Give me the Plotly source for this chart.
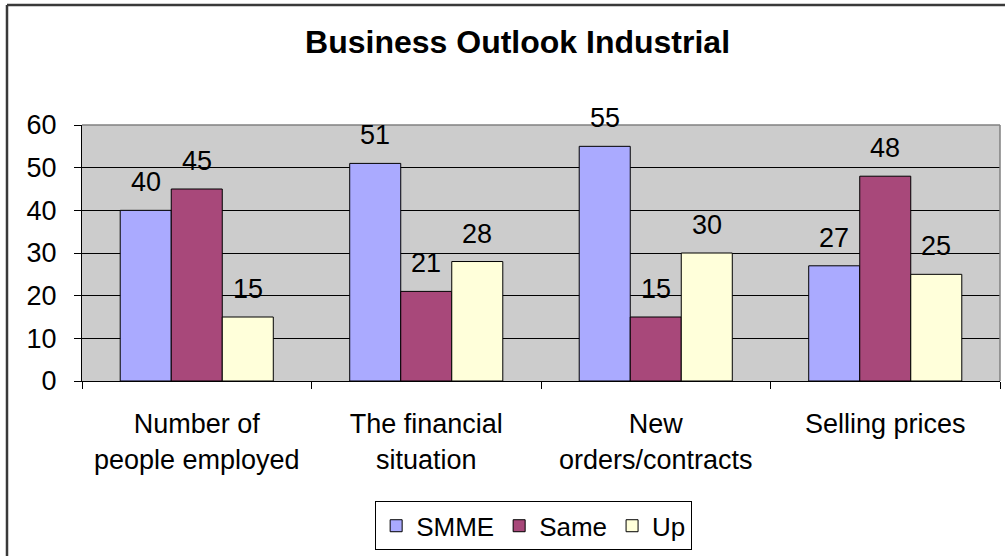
import plotly.graph_objects as go

# Survey categories and the share of responses per outlook group
categories = ["Number of<br>people employed", "The financial<br>situation",
              "New<br>orders/contracts", "Selling prices"]
smme = [40, 51, 55, 27]
same = [45, 21, 15, 48]
up = [15, 28, 30, 25]

series = [("SMME", smme, "#AAAAFF"), ("Same", same, "#A8487A"), ("Up", up, "#FFFFDA")]

FONT = "Arial, Liberation Sans, sans-serif"
BARGAP = 0.333

fig = go.Figure()
for name, vals, color in series:
    fig.add_trace(go.Bar(
        name=name, x=categories, y=vals,
        marker=dict(color=color, line=dict(color="#000000", width=1)),
        cliponaxis=False,
    ))

# value labels sitting above each bar
bar_w = (1 - BARGAP) / len(series)
annotations = []
for k, (name, vals, color) in enumerate(series):
    offset = (k - (len(series) - 1) / 2) * bar_w
    for i, v in enumerate(vals):
        annotations.append(dict(
            x=i + offset, y=v, xref="x", yref="y", text=str(v),
            showarrow=False, yanchor="bottom", yshift=11,
            font=dict(family=FONT, size=27, color="#000000"),
        ))

fig.update_layout(
    width=1005, height=556,
    margin=dict(l=82, r=5, t=125, b=173),
    paper_bgcolor="#FFFFFF",
    plot_bgcolor="#CCCCCC",
    barmode="group", bargap=BARGAP, bargroupgap=0,
    font=dict(family=FONT, size=27, color="#000000"),
    title=dict(text="<b>Business Outlook Industrial</b>", x=0.515, xref="container",
               y=0.925, yref="container", xanchor="center", yanchor="middle",
               font=dict(family=FONT, size=32, color="#000000")),
    legend=dict(orientation="h", x=0.492, y=-0.47, xanchor="center", yanchor="top",
                bordercolor="#000000", borderwidth=1, bgcolor="#FFFFFF",
                font=dict(family=FONT, size=26), itemwidth=30,
                tracegroupgap=0),
    annotations=annotations,
    showlegend=True,
)

fig.update_xaxes(
    type="category", tickson="boundaries", ticks="outside", ticklen=7,
    tickcolor="#000000", showline=True, linecolor="#000000", linewidth=1,
    showgrid=False, ticklabelstandoff=19,
    tickfont=dict(family=FONT, size=27, color="#000000"),
)
fig.update_yaxes(
    range=[0, 60], dtick=10, ticks="outside", ticklen=7, tickcolor="#000000",
    showline=True, linecolor="#000000", linewidth=1,
    showgrid=True, gridcolor="#000000", gridwidth=1, zeroline=False,
    ticklabelstandoff=12,
    tickfont=dict(family=FONT, size=27, color="#000000"),
)

# plot-area frame (top and right edges) and the outer chart border
fig.add_shape(type="line", xref="paper", yref="paper", x0=0, x1=1, y0=1, y1=1,
              line=dict(color="#808080", width=1.5))
fig.add_shape(type="line", xref="paper", yref="paper", x0=1, x1=1, y0=0, y1=1,
              line=dict(color="#808080", width=1.5))
fig.add_shape(type="line", xref="paper", yref="paper", x0=-0.0817, x1=1.2,
              y0=1.469, y1=1.469, line=dict(color="#3A3A3A", width=2.5))
fig.add_shape(type="line", xref="paper", yref="paper", x0=-0.0817, x1=-0.0817,
              y0=1.469, y1=-1.0, line=dict(color="#3A3A3A", width=2.5))

fig.write_html("out.html")
